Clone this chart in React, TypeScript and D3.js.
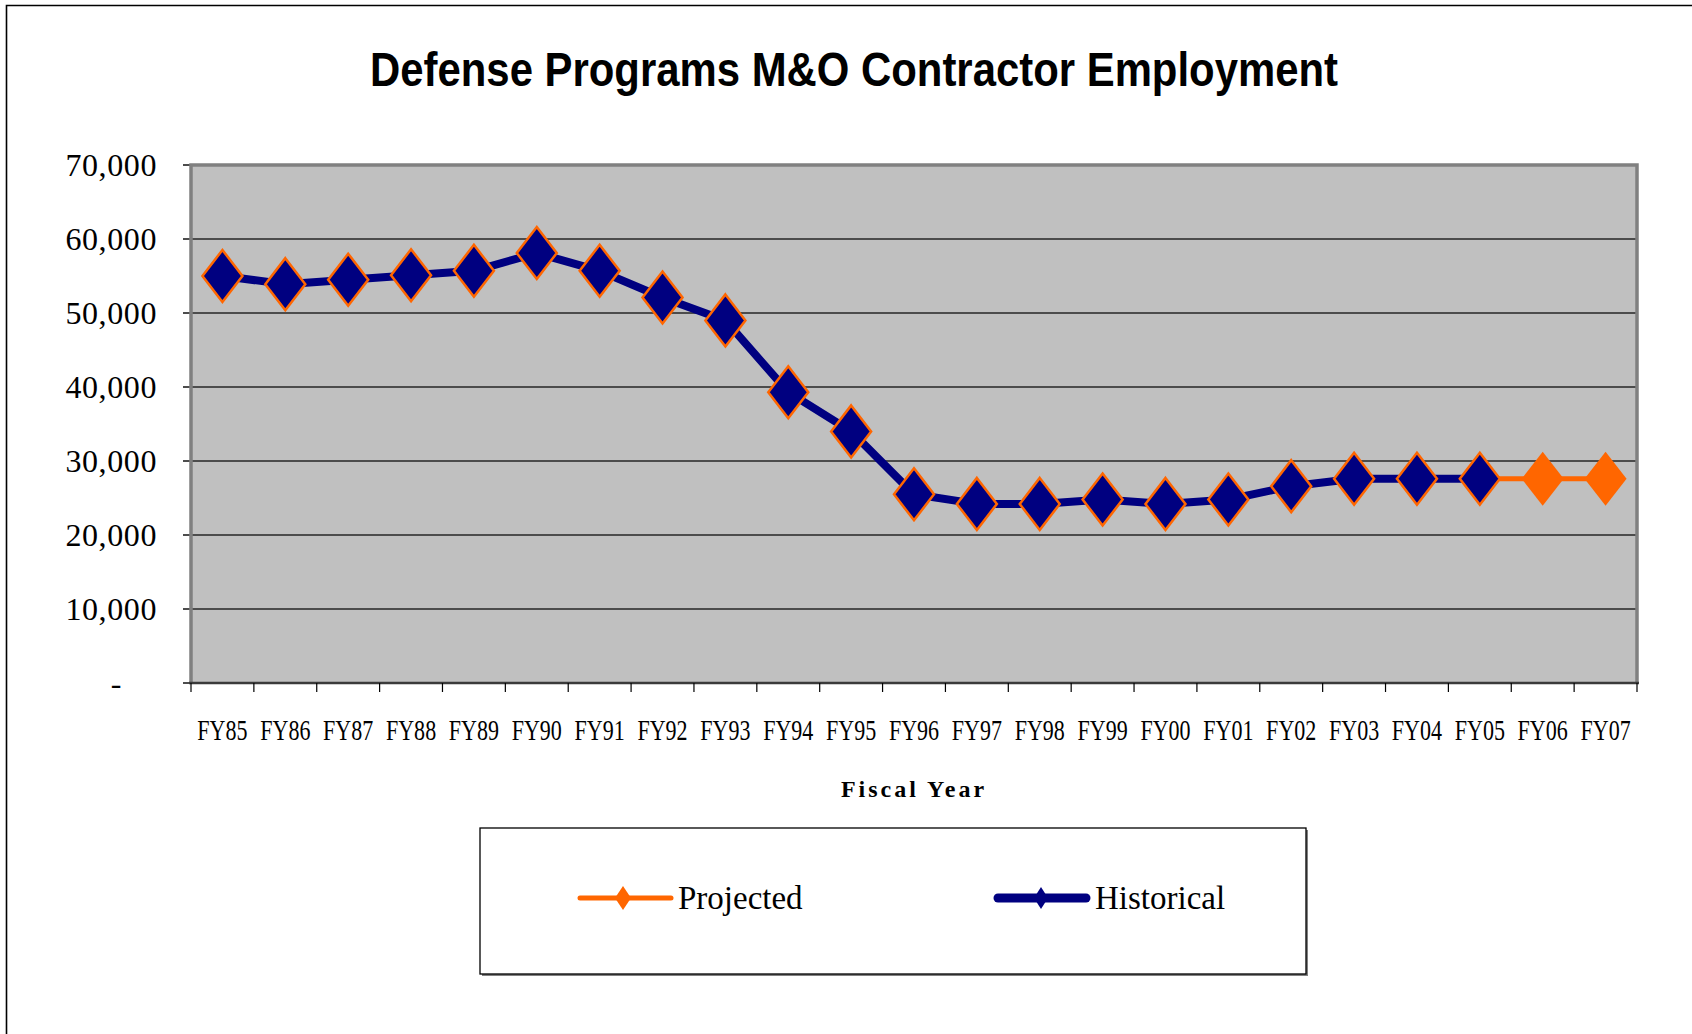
import React from 'react';
import { scaleLinear, scaleBand, line, format } from 'd3';

// fiscal years on the x axis
const years = [
  'FY85', 'FY86', 'FY87', 'FY88', 'FY89', 'FY90', 'FY91', 'FY92', 'FY93', 'FY94', 'FY95', 'FY96',
  'FY97', 'FY98', 'FY99', 'FY00', 'FY01', 'FY02', 'FY03', 'FY04', 'FY05', 'FY06', 'FY07',
];

// historical employment, FY85 - FY05
const historical = [
  55000, 53900, 54500, 55100, 55700, 58100, 55700, 52100, 49000, 39300, 34000, 25500,
  24200, 24200, 24800, 24200, 24800, 26600, 27600, 27600, 27600,
];

// projected employment, FY05 - FY07
const projectedYears = ['FY05', 'FY06', 'FY07'];
const projected = [27600, 27600, 27600];

const yTicks = [0, 10000, 20000, 30000, 40000, 50000, 60000, 70000];

const NAVY = '#000080';
const ORANGE = '#FF6600';

// plot area
const left = 191;
const right = 1637;
const top = 165;
const bottom = 683;

const diamond = (w: number, h: number) => `M0,${-h}L${w},0L0,${h}L${-w},0Z`;

export default function App() {
  const x = scaleBand().domain(years).range([left, right]);
  const y = scaleLinear().domain([0, 70000]).range([bottom, top]);
  const cx = (d: string) => (x(d) as number) + x.bandwidth() / 2;
  const fmt = format(',');

  const histPts = historical.map((v, i) => ({ year: years[i], value: v }));
  const projPts = projected.map((v, i) => ({ year: projectedYears[i], value: v }));

  const path = line<{ year: string; value: number }>()
    .x((d) => cx(d.year))
    .y((d) => y(d.value));

  const serif = '"Liberation Serif", "Times New Roman", serif';

  return (
    <svg
      width={1692}
      height={1034}
      style={{ position: 'absolute', left: 0, top: 0, background: '#fff' }}
    >
      {/* outer frame, runs off the right and bottom edges */}
      <path d="M6.5,1040 V5.5 H1700" fill="none" stroke="#000" strokeWidth={1.6} />

      <text
        x={854}
        y={86}
        textAnchor="middle"
        textLength={968}
        lengthAdjust="spacingAndGlyphs"
        style={{ fontFamily: '"Liberation Sans Narrow", "Liberation Sans", Arial, sans-serif', fontWeight: 'bold', fontSize: 48 }}
      >
        Defense Programs M&amp;O Contractor Employment
      </text>

      {/* plot background */}
      <rect x={left} y={top} width={right - left} height={bottom - top} fill="#C0C0C0" />

      {/* gridlines + y ticks */}
      {yTicks.map((t) => (
        <g key={t}>
          {t > 0 && t < 70000 && (
            <line x1={left} x2={right} y1={y(t)} y2={y(t)} stroke="#262626" strokeWidth={1.4} />
          )}
          <line x1={left - 8} x2={left} y1={y(t)} y2={y(t)} stroke="#000" strokeWidth={1.4} />
          <text
            x={t === 0 ? 122 : 157}
            y={y(t)}
            dy="0.33em"
            textAnchor="end"
            letterSpacing={0.6}
            style={{ fontFamily: serif, fontSize: 32 }}
          >
            {t === 0 ? '-' : fmt(t)}
          </text>
        </g>
      ))}

      {/* plot border */}
      <path
        d={`M${left},${bottom} V${top} H${right} V${bottom}`}
        fill="none"
        stroke="#808080"
        strokeWidth={3.5}
      />
      <line x1={left - 2} x2={right + 2} y1={bottom} y2={bottom} stroke="#3a3a3a" strokeWidth={2.5} />

      {/* x ticks between categories */}
      {years.concat(['end']).map((d, i) => {
        const xx = left + i * x.bandwidth();
        return <line key={d} x1={xx} x2={xx} y1={bottom} y2={bottom + 9} stroke="#000" strokeWidth={1.2} />;
      })}

      {/* x labels */}
      {years.map((d) => (
        <text
          key={d}
          transform={`translate(${cx(d)}, 740) scale(0.76, 1)`}
          textAnchor="middle"
          style={{ fontFamily: serif, fontSize: 29 }}
        >
          {d}
        </text>
      ))}

      <text
        x={(left + right) / 2}
        y={797}
        textAnchor="middle"
        letterSpacing={3}
        style={{ fontFamily: serif, fontWeight: 'bold', fontSize: 24 }}
      >
        Fiscal Year
      </text>

      {/* series */}
      <path d={path(projPts) || ''} fill="none" stroke={ORANGE} strokeWidth={5} />
      <path d={path(histPts) || ''} fill="none" stroke={NAVY} strokeWidth={8} strokeLinejoin="round" />

      {histPts.map((d) => (
        <path
          key={d.year}
          d={diamond(20, 26)}
          transform={`translate(${cx(d.year)}, ${y(d.value)})`}
          fill={NAVY}
          stroke={ORANGE}
          strokeWidth={2.5}
        />
      ))}
      {projPts.slice(1).map((d) => (
        <path
          key={d.year}
          d={diamond(21, 27)}
          transform={`translate(${cx(d.year)}, ${y(d.value)})`}
          fill={ORANGE}
        />
      ))}

      {/* legend */}
      <rect x={482} y={830} width={826} height={146} fill="#808080" />
      <rect x={480} y={828} width={826} height={146} fill="#fff" stroke="#000" strokeWidth={1.3} />

      <line x1={580} x2={671} y1={898} y2={898} stroke={ORANGE} strokeWidth={5} strokeLinecap="round" />
      <path d={diamond(8, 12)} transform="translate(623, 898)" fill={ORANGE} />
      <text x={678} y={909} style={{ fontFamily: serif, fontSize: 33 }}>
        Projected
      </text>

      <line x1={998} x2={1086} y1={898} y2={898} stroke={NAVY} strokeWidth={9} strokeLinecap="round" />
      <path d={diamond(7, 11)} transform="translate(1041, 898)" fill={NAVY} />
      <text x={1095} y={909} style={{ fontFamily: serif, fontSize: 33 }}>
        Historical
      </text>
    </svg>
  );
}
